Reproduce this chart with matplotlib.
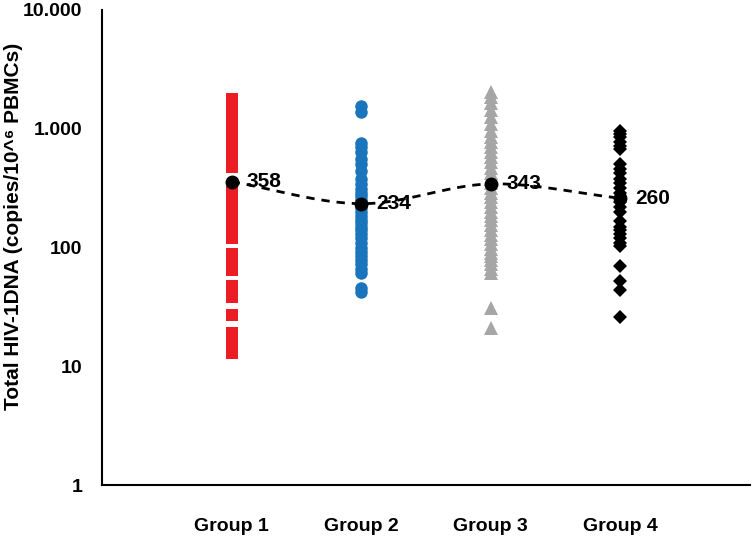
import matplotlib
matplotlib.use('Agg')
import matplotlib.pyplot as plt
import numpy as np

plt.rcParams['font.family'] = ['Liberation Sans', 'DejaVu Sans']
plt.rcParams['font.weight'] = 'bold'

# data
groups = ['Group 1', 'Group 2', 'Group 3', 'Group 4']
group1 = [1780, 1700, 1620, 1550, 1450, 1380, 1300, 1200, 1120, 1050, 980, 900,
          850, 780, 720, 680, 630, 580, 540, 500, 480, 330, 310, 290, 270, 250,
          230, 210, 195, 180, 165, 150, 140, 130, 120, 88, 80, 72, 65, 47, 42,
          38, 27, 19, 17, 15, 13]
group2 = [1550, 1380, 760, 700, 640, 560, 500, 440, 380, 340, 310, 290, 270,
          250, 230, 215, 200, 185, 170, 160, 150, 140, 130, 120, 110, 100, 92,
          85, 78, 72, 66, 61, 46, 42]
group3 = [2050, 1850, 1650, 1450, 1250, 1100, 950, 850, 780, 700, 640, 580,
          520, 470, 420, 380, 350, 320, 290, 265, 240, 220, 200, 185, 170, 155,
          140, 128, 118, 108, 98, 90, 84, 78, 72, 66, 61, 31, 21]
group4 = [950, 900, 850, 780, 720, 680, 500, 460, 420, 380, 350, 320, 290, 260,
          240, 220, 200, 166, 150, 140, 130, 120, 110, 102, 70, 52, 44, 26]
means = [358, 234, 343, 260]
ytick_vals = [1, 10, 100, 1000, 10000]
ytick_labels = ['1', '10', '100', '1.000', '10.000']

fig = plt.figure(figsize=(7.56, 5.4), dpi=100)
ax = fig.add_axes([102 / 756, 1 - 485 / 540, 648 / 756, 475 / 540])

styles = [('s', '#ec1c24', 8.5), ('o', '#1b75bc', 9), ('^', '#a6a6a6', 9.5), ('D', 'black', 7)]
for i, (vals, (mk, col, ms)) in enumerate(zip([group1, group2, group3, group4], styles)):
    x = np.full(len(vals), i + 1)
    ax.plot(x, vals, linestyle='none', marker=mk, color=col, ms=ms,
            markeredgewidth=0, zorder=2)

# smoothed dashed line through the means (Catmull-Rom in log space)
xm = np.arange(1, len(means) + 1)
lm = np.log10(means)
tang = np.gradient(lm)
xs, ys = [], []
for i in range(len(means) - 1):
    t = np.linspace(0, 1, 40)
    h00 = 2 * t**3 - 3 * t**2 + 1
    h10 = t**3 - 2 * t**2 + t
    h01 = -2 * t**3 + 3 * t**2
    h11 = t**3 - t**2
    xs.extend(xm[i] + t)
    ys.extend(h00 * lm[i] + h10 * tang[i] + h01 * lm[i + 1] + h11 * tang[i + 1])
ax.plot(xs, 10 ** np.array(ys), color='black', lw=2, linestyle=(0, (3, 2.5)), zorder=3)

ax.plot(xm, means, linestyle='none', marker='o', color='black', ms=9, zorder=4)
for x, m in zip(xm, means):
    ax.annotate(str(m), (x, m), xytext=(11, 0), textcoords='offset points',
                va='center', ha='left', fontsize=15, fontweight='bold', zorder=5)

ax.set_yscale('log')
ax.set_ylim(1, 10000)
ax.set_xlim(0, 5)
ax.set_yticks(ytick_vals)
ax.set_yticklabels(ytick_labels)
ax.yaxis.set_minor_locator(matplotlib.ticker.NullLocator())
ax.set_xticks(xm)
ax.set_xticklabels(groups)
ax.tick_params(axis='both', length=0, labelsize=14)
ax.tick_params(axis='y', pad=14)
ax.tick_params(axis='x', pad=24, labelsize=14)

ax.set_ylabel('Total HIV-1DNA (copies/10^\u2076 PBMCs)', fontsize=15, fontweight='bold')
ax.yaxis.set_label_coords(-0.122, 0.545)
for s in ['top', 'right']:
    ax.spines[s].set_visible(False)
for s in ['left', 'bottom']:
    ax.spines[s].set_linewidth(1.5)

fig.savefig('out.png', dpi=100)
